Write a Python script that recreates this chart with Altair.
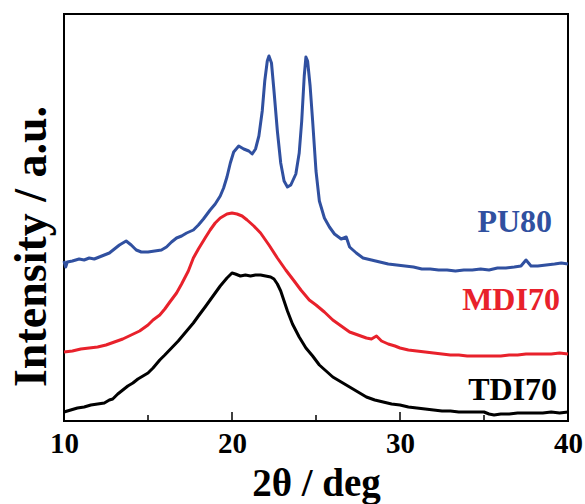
import altair as alt
import pandas as pd

# --- XRD patterns (2θ in degrees, intensity in arbitrary units, stacked) ---
tdi_x = [10.0, 10.4, 10.8, 11.2, 11.6, 12.0, 12.4, 12.7, 12.9, 13.2, 13.5, 13.8, 14.1, 14.4,
         14.7, 15.0, 15.3, 15.7, 16.0, 16.4, 16.8, 17.2, 17.7, 18.0, 18.4, 18.7, 19.0, 19.3,
         19.7, 20.0, 20.2, 20.5, 20.8, 21.1, 21.4, 21.7, 22.0, 22.3, 22.5, 22.7, 22.9, 23.1,
         23.3, 23.6, 24.0, 24.4, 24.8, 25.2, 25.6, 26.0, 26.5, 27.0, 27.5, 28.0, 28.5, 29.0,
         29.5, 30.0, 30.5, 31.0, 31.5, 32.0, 32.5, 33.0, 33.5, 34.0, 34.5, 35.0, 35.3, 35.6,
         36.0, 36.5, 37.0, 37.5, 38.0, 38.5, 39.0, 39.5, 40.0]
tdi_y = [9, 11, 13, 14, 16, 17, 18, 21, 22, 27, 31, 35, 38, 42,
         45, 48, 53, 61, 66, 73, 80, 88, 98, 105, 114, 121, 128, 135,
         143, 148, 147, 145, 146, 145, 146, 146, 145, 144, 142, 137, 130, 120,
         110, 97, 84, 73, 65, 56, 50, 44, 39, 34, 29, 24, 21, 19,
         17, 16, 14, 13, 12, 11, 10, 10, 9, 9, 9, 9, 7, 6,
         7, 7, 8, 8, 8, 8, 9, 8, 9]

mdi_x = [10.0, 10.5, 11.0, 11.5, 12.0, 12.5, 13.0, 13.5, 14.0, 14.5, 15.0, 15.3, 15.7, 16.0,
         16.3, 16.7, 17.0, 17.4, 17.7, 18.0, 18.4, 18.7, 19.0, 19.3, 19.7, 20.0, 20.3, 20.6,
         20.9, 21.3, 21.7, 22.2, 22.7, 23.2, 23.7, 24.1, 24.6, 25.0, 25.5, 26.0, 26.5, 27.0,
         27.5, 28.0, 28.3, 28.6, 28.9, 29.3, 29.7, 30.0, 30.5, 31.0, 31.5, 32.0, 32.5, 33.0,
         33.5, 34.0, 34.5, 35.0, 35.5, 36.0, 36.5, 37.0, 37.5, 38.0, 38.5, 39.0, 39.5, 40.0]
mdi_y = [69, 70, 72, 73, 74, 76, 79, 82, 86, 90, 96, 101, 106, 112,
         119, 128, 137, 150, 163, 172, 183, 191, 198, 203, 207, 208, 207, 205,
         201, 195, 188, 176, 163, 151, 140, 131, 121, 116, 109, 101, 95, 89,
         86, 83, 82, 85, 80, 77, 75, 73, 71, 70, 69, 68, 67, 66,
         66, 65, 65, 65, 65, 65, 66, 66, 67, 67, 67, 67, 68, 67]

pu_x = [10.0, 10.1, 10.2, 10.5, 10.9, 11.2, 11.5, 11.8, 12.1, 12.4, 12.7, 13.0, 13.3, 13.7,
        14.0, 14.3, 14.6, 15.0, 15.4, 15.8, 16.1, 16.4, 16.7, 17.0, 17.3, 17.7, 18.0, 18.3,
        18.7, 19.0, 19.3, 19.5, 19.7, 19.9, 20.1, 20.4, 20.7, 21.0, 21.2, 21.4, 21.6, 21.8,
        21.95, 22.1, 22.2, 22.35, 22.5, 22.7, 22.9, 23.1, 23.3, 23.5, 23.8, 24.0, 24.15, 24.3,
        24.4, 24.5, 24.65, 24.8, 25.0, 25.2, 25.5, 25.8, 26.1, 26.5, 26.8, 27.0, 27.4, 27.8,
        28.3, 28.8, 29.3, 29.8, 30.3, 30.8, 31.3, 31.8, 32.3, 32.8, 33.3, 33.8, 34.3, 34.8,
        35.3, 35.8, 36.3, 36.8, 37.2, 37.5, 37.8, 38.2, 38.7, 39.2, 39.6, 40.0]
pu_y = [160, 154, 159, 160, 162, 161, 163, 162, 164, 166, 168, 172, 176, 180,
        176, 171, 169, 169, 170, 171, 174, 179, 183, 185, 188, 191, 196, 202,
        211, 217, 225, 233, 244, 258, 269, 275, 272, 270, 267, 272, 285, 310,
        340, 360, 365, 358, 330, 290, 258, 240, 234, 236, 247, 268, 300, 345,
        364, 360, 335, 300, 250, 220, 203, 194, 187, 182, 184, 174, 168, 163,
        161, 159, 157, 156, 155, 154, 152, 152, 151, 151, 150, 151, 151, 152,
        151, 153, 153, 154, 155, 161, 155, 155, 156, 157, 158, 157]

series_names = ["TDI70", "MDI70", "PU80"]
series_colors = ["#000000", "#e8212b", "#3050a0"]

label_x = [39.35, 39.52, 39.05]
label_y = [21, 111, 189]

major_ticks = [20, 30]
minor_ticks = [15, 25, 35]

W, H = 504, 407

frames = []
for name, xs, ys in [("TDI70", tdi_x, tdi_y), ("MDI70", mdi_x, mdi_y), ("PU80", pu_x, pu_y)]:
    frames.append(pd.DataFrame({"two_theta": xs, "intensity": ys, "sample": name}))
patterns = pd.concat(frames, ignore_index=True)

labels = pd.DataFrame({"two_theta": label_x, "intensity": label_y,
                       "sample": series_names, "color": series_colors})

x_scale = alt.Scale(domain=[10, 40], nice=False, zero=False)
y_scale = alt.Scale(domain=[0, 407], nice=False, zero=False)

serif = "Liberation Serif"

lines = alt.Chart(patterns).mark_line(strokeWidth=3, strokeJoin="round").encode(
    x=alt.X("two_theta:Q", scale=x_scale,
            axis=alt.Axis(values=[10, 20, 30, 40], ticks=False, grid=False, domain=False,
                          labelFont=serif, labelFontWeight="bold", labelFontSize=29,
                          labelColor="black", labelPadding=8, labelFlush=False,
                          title="2θ / deg", titleFont=serif, titleFontWeight="bold",
                          titleFontSize=39, titleColor="black",
                          titleBaseline="alphabetic", titleY=74)),
    y=alt.Y("intensity:Q", scale=y_scale,
            axis=alt.Axis(labels=False, ticks=False, grid=False, domain=False,
                          title="Intensity / a.u.", titleFont=serif, titleFontWeight="bold",
                          titleFontSize=46, titleColor="black",
                          titleBaseline="alphabetic", titleAngle=270,
                          titleX=-19, titleY=232)),
    color=alt.Color("sample:N", scale=alt.Scale(domain=series_names, range=series_colors),
                    legend=None),
    detail="sample:N",
)

text = alt.Chart(labels).mark_text(align="right", baseline="alphabetic", font=serif,
                                   fontWeight="bold", fontSize=32).encode(
    x=alt.X("two_theta:Q", scale=x_scale),
    y=alt.Y("intensity:Q", scale=y_scale),
    text="sample:N",
    color=alt.Color("color:N", scale=None),
)

major = alt.Chart(pd.DataFrame({"pos": major_ticks})).mark_rule(
    color="black", strokeWidth=1.5).encode(
    x=alt.X("pos:Q", scale=x_scale), y=alt.value(H), y2=alt.value(H - 9))

minor = alt.Chart(pd.DataFrame({"pos": minor_ticks})).mark_rule(
    color="black", strokeWidth=1.5).encode(
    x=alt.X("pos:Q", scale=x_scale), y=alt.value(H), y2=alt.value(H - 6))

chart = alt.layer(lines, text, major, minor).properties(
    width=W, height=H,
    autosize=alt.AutoSizeParams(type="none"),
    padding={"left": 64, "top": 14, "right": 17, "bottom": 83},
    background="white",
).configure_view(stroke="black", strokeWidth=2)

chart.save("out.html", embed_options={"renderer": "svg", "actions": False})
